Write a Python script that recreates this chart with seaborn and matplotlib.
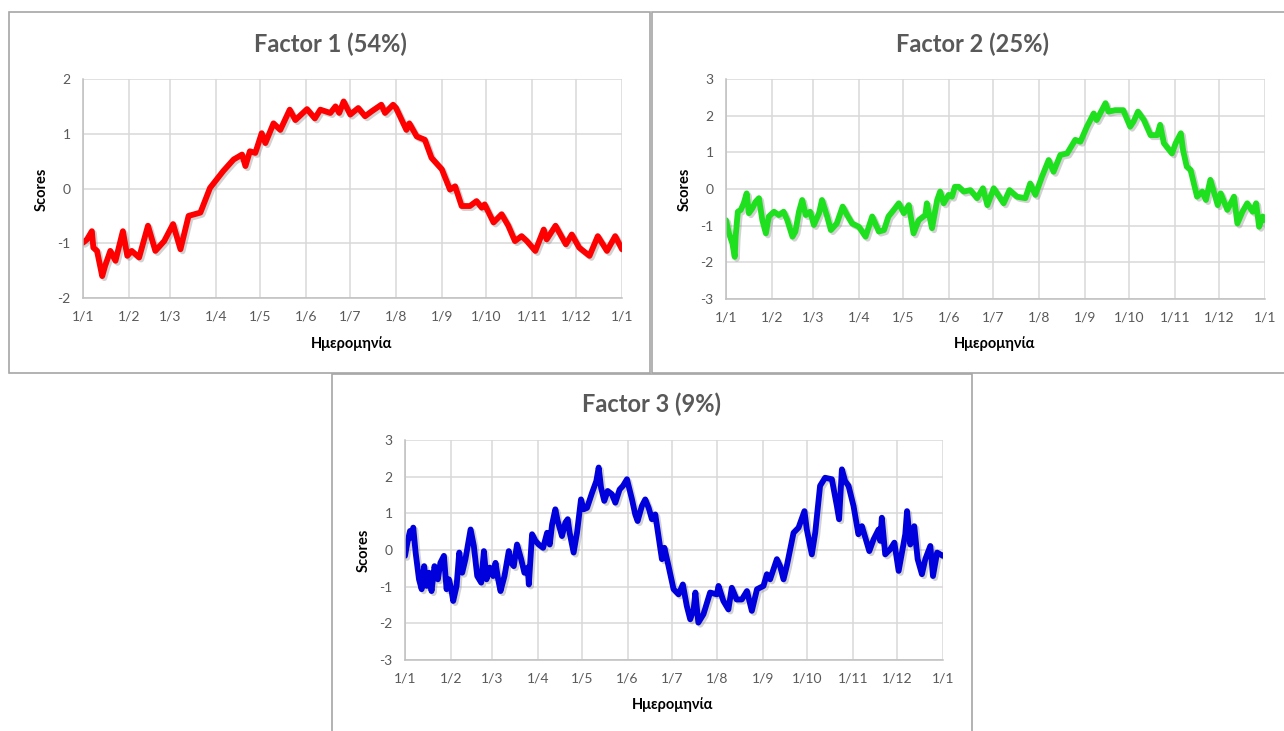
import numpy as np
import pandas as pd
import matplotlib
matplotlib.use("Agg")
import matplotlib.pyplot as plt
import matplotlib.patheffects as pe
from matplotlib.patches import Rectangle
import seaborn as sns

# ---------------- data (day of year, score) ----------------
f1_day = [0, 2.7, 6, 7, 9.5, 13, 15, 18.5, 22, 27, 30, 33, 38, 44, 49, 55, 61, 66, 71.5,
          79.5, 86, 95, 102, 107.7, 110, 113, 116.7, 121, 123.5, 129, 133.6, 140, 143.8,
          151.7, 157, 160.7, 167.5, 171, 173.5, 176.5, 181, 186.4, 191, 195.5, 202, 204.5,
          210, 212, 219, 221, 226, 231.5, 236, 243, 248.5, 252, 256.4, 262, 266.5, 270,
          272, 278, 283.5, 288, 292.5, 297, 300.6, 306.3, 312, 314, 320, 327, 331, 336,
          343, 348.6, 354.8, 360.4, 365]
f1_val = [-0.99, -0.93, -0.78, -1.08, -1.14, -1.6, -1.41, -1.14, -1.32, -0.78, -1.23, -1.14,
          -1.26, -0.68, -1.14, -0.96, -0.65, -1.11, -0.5, -0.44, 0.01, 0.32, 0.53, 0.62,
          0.41, 0.68, 0.65, 1.01, 0.83, 1.19, 1.07, 1.44, 1.25, 1.45, 1.28, 1.44, 1.38,
          1.5, 1.38, 1.59, 1.35, 1.47, 1.32, 1.41, 1.53, 1.38, 1.53, 1.47, 1.07, 1.19,
          0.95, 0.89, 0.56, 0.35, -0.02, 0.04, -0.32, -0.32, -0.23, -0.35, -0.29, -0.62,
          -0.47, -0.68, -0.96, -0.87, -0.96, -1.14, -0.75, -0.93, -0.68, -1.02, -0.84,
          -1.08, -1.23, -0.87, -1.14, -0.87, -1.11]

f2_day = [0, 2, 4.3, 5.9, 6.5, 8, 10, 12, 14, 15.5, 17.8, 20, 22.3, 24.6, 27, 29, 32.5,
          35.8, 39, 41.5, 45, 47, 49.4, 51.6, 54, 57, 59.5, 63, 65, 68.5, 71, 75, 79, 82,
          85.4, 90, 94.5, 99, 103.5, 107, 110, 113.6, 117, 120.4, 123.8, 127, 130.5, 135,
          136, 139.5, 143, 145, 147.4, 150.8, 153, 155, 157.6, 161, 165.5, 170, 174, 177,
          181.3, 188, 192, 197, 202.7, 206, 209.5, 214, 218.5, 221.8, 226.4, 231, 236.5,
          240, 244.4, 249, 251, 257, 259, 263.5, 269, 273.7, 276, 279, 283, 287.5, 292,
          294, 296.5, 302, 304.5, 308, 309.5, 312, 314.6, 319, 322.5, 325, 328, 333, 335,
          339.5, 344, 346.3, 349.7, 353, 356.6, 359, 361, 363.5, 365]
f2_val = [-0.85, -1.21, -1.48, -1.85, -1.3, -0.62, -0.57, -0.39, -0.12, -0.66, -0.53, -0.35,
          -0.25, -0.85, -1.21, -0.75, -0.62, -0.71, -0.62, -0.85, -1.3, -1.16, -0.62, -0.3,
          -0.71, -0.62, -0.98, -0.66, -0.3, -0.75, -1.12, -0.94, -0.48, -0.71, -0.94,
          -1.03, -1.3, -0.75, -1.16, -1.12, -0.75, -0.57, -0.39, -0.66, -0.44, -1.21,
          -0.85, -0.71, -0.39, -1.07, -0.3, -0.07, -0.39, -0.16, -0.21, 0.06, 0.06, -0.07,
          -0.03, -0.25, 0.02, -0.44, 0.02, -0.39, -0.03, -0.21, -0.25, 0.15, -0.16, 0.34,
          0.79, 0.47, 0.93, 0.97, 1.34, 1.29, 1.7, 2.06, 1.88, 2.34, 2.11, 2.15, 2.15, 1.7,
          1.84, 2.11, 1.88, 1.47, 1.47, 1.75, 1.25, 0.97, 1.25, 1.52, 1.06, 0.61, 0.52,
          -0.21, -0.07, -0.3, 0.25, -0.44, -0.12, -0.57, -0.21, -0.94, -0.62, -0.39, -0.62,
          -0.39, -1.03, -0.75, -0.85]

f3_day = [0, 1.6, 3.4, 4.5, 5.6, 7.2, 9.5, 11.3, 13, 14.7, 16.3, 18, 20, 22.3, 24, 26.4,
          28.2, 29.8, 31.4, 32.7, 35, 36.8, 38.8, 41, 44.5, 46.7, 49, 51.7, 53.5, 55.3,
          57.6, 59.8, 61.4, 63.2, 64.8, 67.5, 70.4, 72, 73.8, 76, 78.8, 81, 83.3, 84, 86.2,
          88.5, 90.7, 93.7, 96.4, 98.2, 99.8, 102, 103.6, 106.5, 108.8, 110.4, 111.7,
          114.4, 116.7, 119.4, 121.2, 123.5, 126.9, 129.8, 131.4, 133, 135.2, 137.5, 140.4,
          142.7, 145.6, 147.9, 150.6, 154, 156.2, 157.8, 160.7, 163, 165.3, 167.5, 169.8,
          172, 174.3, 176, 178.8, 182.2, 185.6, 188.5, 191.2, 193.5, 195.8, 197, 199,
          202.5, 207, 211.6, 212.7, 216, 219.4, 221.7, 225, 228.5, 232, 235.3, 238.8,
          243.2, 245.5, 247.7, 252.3, 254.5, 256.8, 259, 263.6, 267, 271, 272.6, 276,
          278.3, 281.6, 285, 289.6, 293, 294.5, 296.4, 298.6, 300.9, 304.3, 307.6, 310,
          315, 317.9, 321.3, 322.4, 323.5, 325.8, 329.2, 332, 334.9, 339.4, 340.6, 342.8,
          345.5, 347.8, 350.7, 353, 356.4, 358.2, 361, 365]
f3_val = [-0.16, 0.2, 0.52, 0.34, 0.61, -0.07, -0.8, -1.07, -0.44, -0.98, -0.62, -1.12,
          -0.44, -0.8, -0.35, -0.16, -1.07, -0.8, -1.07, -1.39, -0.98, -0.07, -0.62, -0.25,
          0.56, 0.11, -0.71, -0.89, -0.03, -0.8, -0.48, -0.71, -0.35, -0.8, -1.12, -0.71,
          -0.03, -0.35, -0.44, 0.15, -0.25, -0.62, -0.48, -0.94, 0.43, 0.25, 0.15, 0.06,
          0.47, 0.15, 0.7, 1.11, 0.79, 0.38, 0.75, 0.84, 0.47, -0.07, 0.47, 1.38, 1.11,
          1.15, 1.56, 1.88, 2.25, 1.7, 1.34, 1.61, 1.52, 1.29, 1.65, 1.75, 1.93, 1.38,
          0.97, 0.79, 1.2, 1.38, 1.15, 0.84, 0.97, 0.38, -0.25, 0.06, -0.44, -1.07, -1.21,
          -0.94, -1.53, -1.89, -1.62, -1.16, -1.98, -1.75, -1.16, -1.21, -0.98, -1.39,
          -1.62, -1.03, -1.35, -1.35, -1.12, -1.66, -1.07, -0.98, -0.66, -0.8, -0.25,
          -0.44, -0.8, -0.44, 0.47, 0.61, 1.06, 0.56, -0.12, 0.47, 1.75, 1.97, 1.93, 1.2,
          0.84, 2.2, 1.88, 1.75, 1.2, 0.43, 0.65, -0.03, 0.29, 0.56, 0.25, 0.88, -0.12,
          0.02, 0.2, -0.57, 0.43, 1.06, 0.15, 0.65, -0.25, -0.66, -0.25, 0.11, -0.71,
          -0.07, -0.16]

month_starts = [0, 31, 59, 90, 120, 151, 181, 212, 243, 273, 304, 334, 365]
month_labels = ["1/1", "1/2", "1/3", "1/4", "1/5", "1/6", "1/7", "1/8", "1/9",
                "1/10", "1/11", "1/12", "1/1"]

titles = ["Factor 1 (54%)", "Factor 2 (25%)", "Factor 3 (9%)"]
colors = ["#FF0000", "#1EE01E", "#0000DD"]
ylims = [(-2, 2), (-3, 3), (-3, 3)]

# ---------------- layout ----------------
W, H = 1284, 731
sns.set_style("white")
plt.rcParams['font.family'] = ['Lato', 'DejaVu Sans']
plt.rcParams['axes.unicode_minus'] = False
fig = plt.figure(figsize=(W / 100, H / 100), dpi=100)
fig.patch.set_facecolor("white")


def px_rect(x0, y0, x1, y1):
    return [x0 / W, 1 - y1 / H, (x1 - x0) / W, (y1 - y0) / H]


axes_px = [(83, 79, 622, 298), (726, 79, 1265, 299), (405, 440, 943, 660)]
boxes_px = [(9, 12, 650, 373), (652, 12, 1300, 373), (332, 374, 972, 740)]
title_pos = [(330, 44), (973, 44), (652, 404)]
ylab_pos = [(42, 189), (685, 189), (364, 550)]
xlab_pos = [(352, 344), (995, 344), (673, 705)]

for (x0, y0, x1, y1) in boxes_px:
    fig.patches.append(Rectangle((x0 / W, 1 - y1 / H), (x1 - x0) / W, (y1 - y0) / H,
                                 transform=fig.transFigure, fill=False,
                                 edgecolor="#A6A6A6", linewidth=1.2, zorder=0))

series = [(f1_day, f1_val), (f2_day, f2_val), (f3_day, f3_val)]
for i, ((days, vals), col) in enumerate(zip(series, colors)):
    ax = fig.add_axes(px_rect(*axes_px[i]))
    df = pd.DataFrame({"day": days, "score": vals})
    sns.lineplot(data=df, x="day", y="score", ax=ax, color=col, linewidth=4.2,
                 estimator=None, sort=False)
    # thin overlay of the same series (the reference shows a thin raw line over the thick one)
    sns.lineplot(data=df, x="day", y="score", ax=ax, color=col, linewidth=1.2,
                 estimator=None, sort=False)
    line = ax.get_lines()[0]
    line.set_path_effects([pe.SimpleLineShadow(offset=(1.5, -1.5), shadow_color="#7f7f7f",
                                               alpha=0.35), pe.Normal()])
    line.set_solid_joinstyle("round")
    ax.set_xlim(0, 365)
    ax.set_ylim(*ylims[i])
    ax.set_xticks(month_starts)
    ax.set_xticklabels(month_labels)
    ax.set_yticks(range(ylims[i][0], ylims[i][1] + 1))
    ax.grid(True, color="#D9D9D9", linewidth=1.1)
    ax.set_axisbelow(True)
    for s in ["top", "right"]:
        ax.spines[s].set_visible(False)
    for s in ["left", "bottom"]:
        ax.spines[s].set_color("#BFBFBF")
        ax.spines[s].set_linewidth(1.1)
    ax.tick_params(axis="x", length=4, color="#BFBFBF", pad=5, labelsize=10,
                   labelcolor="#595959")
    ax.tick_params(axis="y", length=0, pad=9, labelsize=10, labelcolor="#595959")
    ax.set_xlabel("")
    ax.set_ylabel("")
    fig.text(title_pos[i][0] / W, 1 - title_pos[i][1] / H, titles[i], ha="center",
             va="center", fontsize=17, fontweight="bold", color="#595959")
    fig.text(ylab_pos[i][0] / W, 1 - ylab_pos[i][1] / H, "Scores", ha="center",
             va="center", rotation=90, fontsize=10.5, fontweight="bold", color="black")
    fig.text(xlab_pos[i][0] / W, 1 - xlab_pos[i][1] / H, "Ημερομηνία", ha="center",
             va="center", fontsize=10.5, fontweight="bold", color="black")

fig.savefig("out.png", dpi=100, facecolor="white")
